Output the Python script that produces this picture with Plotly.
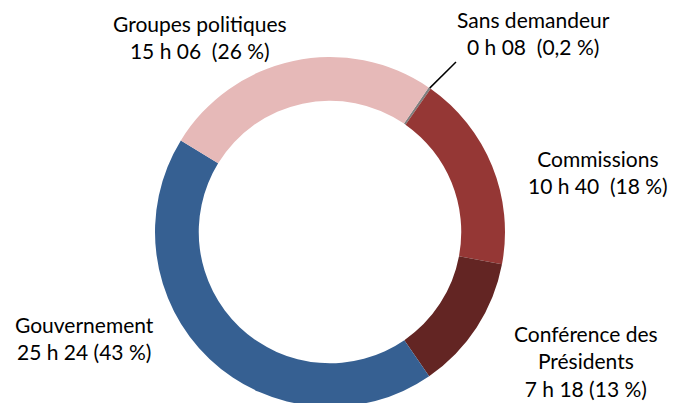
import math
import plotly.graph_objects as go

# Répartition du temps de parole par demandeur
labels = ["Sans demandeur", "Commissions", "Conférence des Présidents",
          "Gouvernement", "Groupes politiques"]
minutes = [8, 640, 438, 1524, 906]
durees = ["0 h 08", "10 h 40", "7 h 18", "25 h 24", "15 h 06"]
parts = ["0,2 %", "18 %", "13 %", "43 %", "26 %"]
colors = ["#7f7f7f", "#953735", "#632523", "#366092", "#e6b9b8"]

W, H = 678, 403
OFF = 8  # page body margin: figure is drawn 8px right/down
ROTATION = 34.3
# ring in screen pixels: centre (330, 232), radius 175
cx, cy, r = 330 - OFF, 232 - OFF, 175

fig = go.Figure(go.Pie(
    labels=labels,
    values=minutes,
    sort=False,
    direction="clockwise",
    rotation=ROTATION,
    hole=0.75,
    marker=dict(colors=colors, line=dict(width=0)),
    textinfo="none",
    hoverinfo="label+value",
    domain=dict(x=[(cx - r) / W, (cx + r) / W], y=[(H - cy - r) / H, (H - cy + r) / H]),
    showlegend=False,
))

font = dict(family="Lato, 'Open Sans', sans-serif", size=21, color="#000000")

texts = {
    "Groupes politiques": (200, 37, "Groupes politiques<br>{}  ({})"),
    "Sans demandeur": (533, 33, "Sans demandeur<br>{}  ({})"),
    "Commissions": (598, 172, "Commissions<br>{}  ({})"),
    "Conférence des Présidents": (586, 361, "Conférence des<br>Présidents<br>{} ({})"),
    "Gouvernement": (84, 338, "Gouvernement<br>{} ({})"),
}
for name, d, p in zip(labels, durees, parts):
    px, py, tpl = texts[name]
    fig.add_annotation(x=(px - OFF) / W, y=1 - (py - OFF) / H, xref="paper", yref="paper",
                       text=tpl.format(d, p), showarrow=False, font=font, align="center",
                       xanchor="center", yanchor="middle")

# leader line for the tiny slice, starting at its mid-angle on the outer edge
total = sum(minutes)
mid = ROTATION + 360 * minutes[0] / total / 2
a = math.radians(mid)
x0, y0 = cx + r * math.sin(a), cy - r * math.cos(a)
fig.add_shape(type="line", xref="paper", yref="paper",
              x0=x0 / W, y0=1 - y0 / H, x1=(456 - OFF) / W, y1=1 - (62 - OFF) / H,
              line=dict(color="#000000", width=1.5))

fig.update_layout(
    width=W, height=H,
    margin=dict(l=0, r=0, t=0, b=0),
    paper_bgcolor="white",
    plot_bgcolor="white",
)

fig.write_html("out.html")
